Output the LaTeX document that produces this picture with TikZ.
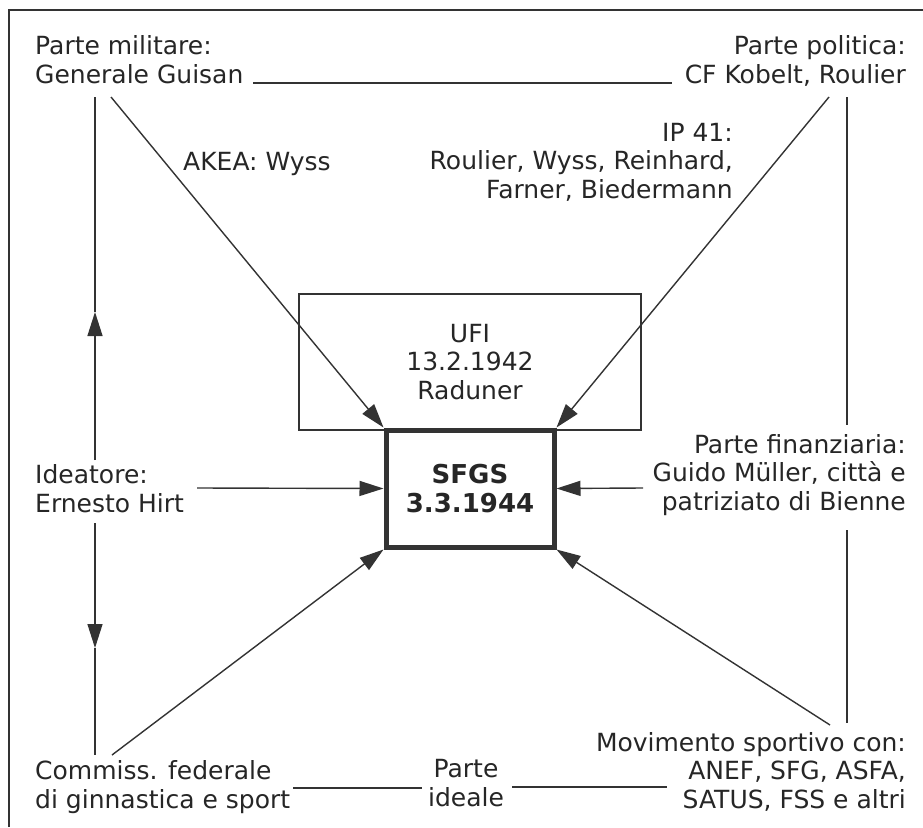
\documentclass[tikz,border=0pt]{standalone}
\usepackage{fontspec}
\setmainfont{DejaVu Sans}
\usetikzlibrary{arrows.meta}
\definecolor{ink}{HTML}{333333}
\definecolor{txt}{HTML}{262626}
\begin{document}
\begin{tikzpicture}[x=1pt,y=-1pt,
  lbl/.style={inner sep=0pt, text=txt, font=\fontsize{25}{28.5}\selectfont},
  conn/.style={draw=ink, line width=1.4pt},
  arr/.style={conn, -{Triangle[length=24pt,width=15pt]}},
  frame/.style={draw=ink, line width=2pt},
]
\useasboundingbox (0,0) rectangle (923,827);
\fill[white] (0,0) rectangle (923,827);
% frame (only top and left visible)
\coordinate (ftl) at (9,10);
\coordinate (ftr) at (923,10);
\coordinate (fbl) at (9,827);
\draw[frame] (fbl) -- (ftl) -- (ftr);

% labels (anchor = baseline of the last line)
\node[lbl, anchor=base west, align=left] (milit) at (35,83) {Parte militare:\\Generale Guisan};
\node[lbl, anchor=base east, align=right] (polit) at (906,83) {Parte politica:\\CF Kobelt, Roulier};
\node[lbl, anchor=base west] (akea) at (183,170) {AKEA: Wyss};
\node[lbl, anchor=base east, align=right] (ip) at (733,198) {IP 41:\\Roulier, Wyss, Reinhard,\\Farner, Biedermann};
\node[lbl, anchor=base west, align=left] (ideat) at (35,512) {Ideatore:\\Ernesto Hirt};
\node[lbl, anchor=base east, align=right] (finanz) at (906,510) {Parte finanziaria:\\Guido Müller, città e\\patriziato di Bienne};
\node[lbl, anchor=base west, align=left] (commiss) at (35,808) {Commiss. federale\\di ginnastica e sport};
\node[lbl, anchor=base, align=center] (ideale) at (466,806) {Parte\\ideale};
\node[lbl, anchor=base east, align=right] (movim) at (906,808) {Movimento sportivo con:\\ANEF, SFG, ASFA,\\SATUS, FSS e altri};

% boxes
\node[lbl, draw=ink, line width=2.5pt, minimum width=342pt, minimum height=136pt, align=center] (ufi) at (470,362) {UFI\\13.2.1942\\Raduner};
\node[lbl, draw=ink, line width=5pt, minimum width=168pt, minimum height=117pt, align=center, font=\fontsize{26}{28.5}\selectfont\bfseries] (sfgs) at (470,488.5) {SFGS\\3.3.1944};

% connector end points
\coordinate (milA) at (111,97);
\coordinate (polA) at (829,97);
\coordinate (ideA) at (197,488);
\coordinate (finA) at (643,488);
\coordinate (comA) at (112,755);
\coordinate (movA) at (830,725);
\coordinate (topL) at (253,83);
\coordinate (topR) at (672,83);
\coordinate (lvTop) at (95,97);
\coordinate (lvMidU) at (95,460);
\coordinate (lvTipU) at (95,312);
\coordinate (lvMidD) at (95,523);
\coordinate (lvTipD) at (95,648);
\coordinate (lvBot) at (95,755);
\coordinate (rvTop) at (847,97);
\coordinate (rvMidU) at (847,425);
\coordinate (rvMidD) at (847,530);
\coordinate (rvBot) at (847,723);
\coordinate (botL1) at (293,788);
\coordinate (botL2) at (422,788);
\coordinate (botR1) at (512,787);
\coordinate (botR2) at (667,787);

% arrows into SFGS
\draw[arr] (milA) -- (sfgs.north west);
\draw[arr] (polA) -- (sfgs.north east);
\draw[arr] (ideA) -- (sfgs.west);
\draw[arr] (finA) -- (sfgs.east);
\draw[arr] (comA) -- (sfgs.south west);
\draw[arr] (movA) -- (sfgs.south east);

% left vertical with mid arrows
\draw[arr] (lvMidU) -- (lvTipU);
\draw[conn] (lvTipU) -- (lvTop);
\draw[arr] (lvMidD) -- (lvTipD);
\draw[conn] (lvTipD) -- (lvBot);

% right vertical
\draw[conn] (rvTop) -- (rvMidU);
\draw[conn] (rvMidD) -- (rvBot);

% horizontal links
\draw[conn, line width=1.8pt] (topL) -- (topR);
\draw[conn, line width=1.8pt] (botL1) -- (botL2);
\draw[conn, line width=1.8pt] (botR1) -- (botR2);
\end{tikzpicture}
\end{document}
